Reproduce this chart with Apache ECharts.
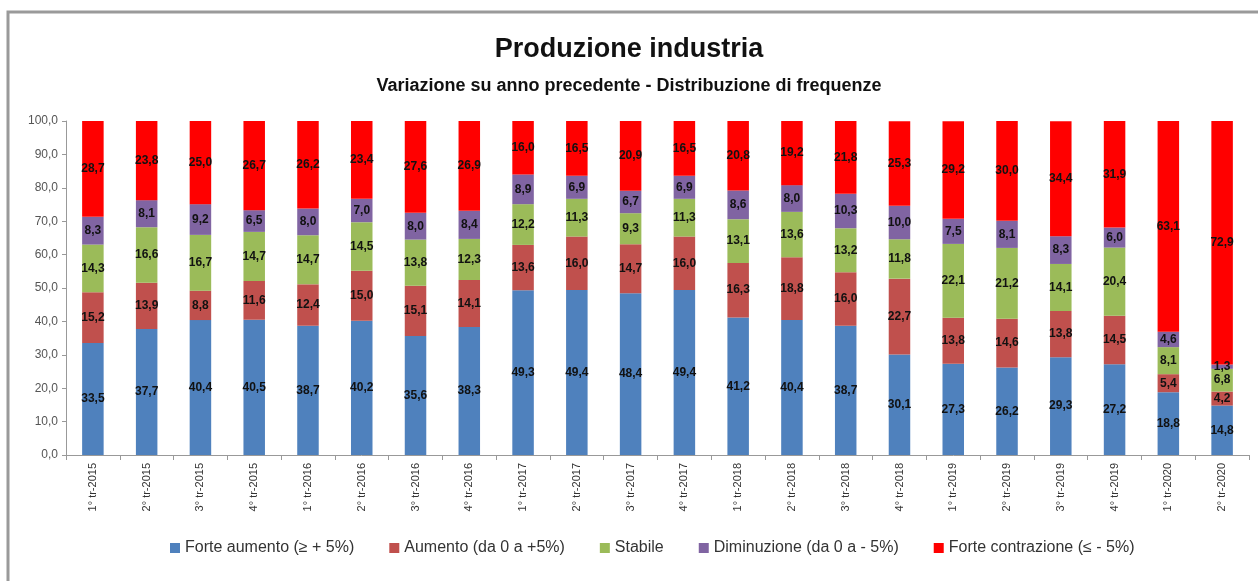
<!DOCTYPE html>
<html>
<head>
<meta charset="utf-8">
<script src="https://cdn.jsdelivr.net/npm/echarts@6/dist/echarts.min.js"></script>
<style>
  html, body { margin: 0; padding: 0; background: #fff; }
  #chart { width: 1258px; height: 581px; }
</style>
</head>
<body>
<div id="chart"></div>
<script>
// trimestri
var categories = [
  "1° tr-2015", "2° tr-2015", "3° tr-2015", "4° tr-2015",
  "1° tr-2016", "2° tr-2016", "3° tr-2016", "4° tr-2016",
  "1° tr-2017", "2° tr-2017", "3° tr-2017", "4° tr-2017",
  "1° tr-2018", "2° tr-2018", "3° tr-2018", "4° tr-2018",
  "1° tr-2019", "2° tr-2019", "3° tr-2019", "4° tr-2019",
  "1° tr-2020", "2° tr-2020"
];
var forteAumento = [33.5, 37.7, 40.4, 40.5, 38.7, 40.2, 35.6, 38.3, 49.3, 49.4, 48.4, 49.4, 41.2, 40.4, 38.7, 30.1, 27.3, 26.2, 29.3, 27.2, 18.8, 14.8];
var aumento = [15.2, 13.9, 8.8, 11.6, 12.4, 15.0, 15.1, 14.1, 13.6, 16.0, 14.7, 16.0, 16.3, 18.8, 16.0, 22.7, 13.8, 14.6, 13.8, 14.5, 5.4, 4.2];
var stabile = [14.3, 16.6, 16.7, 14.7, 14.7, 14.5, 13.8, 12.3, 12.2, 11.3, 9.3, 11.3, 13.1, 13.6, 13.2, 11.8, 22.1, 21.2, 14.1, 20.4, 8.1, 6.8];
var diminuzione = [8.3, 8.1, 9.2, 6.5, 8.0, 7.0, 8.0, 8.4, 8.9, 6.9, 6.7, 6.9, 8.6, 8.0, 10.3, 10.0, 7.5, 8.1, 8.3, 6.0, 4.6, 1.3];
var forteContrazione = [28.7, 23.8, 25.0, 26.7, 26.2, 23.4, 27.6, 26.9, 16.0, 16.5, 20.9, 16.5, 20.8, 19.2, 21.8, 25.3, 29.2, 30.0, 34.4, 31.9, 63.1, 72.9];
var seriesNames = [
  "Forte aumento (≥ + 5%)", "Aumento (da 0 a +5%)", "Stabile",
  "Diminuzione (da 0 a - 5%)", "Forte contrazione (≤ - 5%)"
];

var font = "'Liberation Sans Narrow', 'Liberation Sans', sans-serif";
var colors = ["#4F81BD", "#C0504D", "#9BBB59", "#8064A2", "#FF0000"];

function virgola(v) {
  return v.toFixed(1).replace(".", ",");
}

var chart = echarts.init(document.getElementById("chart"));

function makeSeries(name, data, color) {
  return {
    name: name,
    type: "bar",
    stack: "tot",
    data: data,
    barWidth: "40%",
    itemStyle: { color: color },
    label: {
      show: true,
      position: "inside",
      color: "#111",
      fontFamily: font,
      fontWeight: "bold",
      fontSize: 12,
      formatter: function (p) { return virgola(p.value); }
    }
  };
}

var allData = [forteAumento, aumento, stabile, diminuzione, forteContrazione];

chart.setOption({
  animation: false,
  color: colors,
  title: {
    text: "Produzione industria",
    subtext: "Variazione su anno precedente - Distribuzione di frequenze",
    left: "center",
    top: 31,
    itemGap: 14,
    textStyle: { fontFamily: font, fontWeight: "bold", fontSize: 27, color: "#111" },
    subtextStyle: { fontFamily: font, fontWeight: "bold", fontSize: 18, color: "#111" }
  },
  legend: {
    bottom: 20,
    left: 165,
    itemWidth: 10,
    itemHeight: 10,
    itemGap: 35,
    icon: "rect",
    textStyle: { fontFamily: font, fontSize: 16, color: "#333" },
    data: seriesNames
  },
  grid: { left: 66, right: 9, top: 121, bottom: 126 },
  xAxis: {
    type: "category",
    data: categories,
    axisLine: { lineStyle: { color: "#999" } },
    axisTick: { show: true, lineStyle: { color: "#999" } },
    axisLabel: {
      rotate: 90,
      interval: 0,
      fontFamily: font,
      fontSize: 11,
      color: "#333",
      margin: 8
    }
  },
  yAxis: {
    type: "value",
    min: 0,
    max: 100,
    interval: 10,
    splitLine: { show: false },
    axisLine: { show: true, lineStyle: { color: "#999" } },
    axisTick: { show: true, length: 4, lineStyle: { color: "#999" } },
    axisLabel: {
      fontFamily: font,
      fontSize: 12,
      color: "#555",
      margin: 8,
      formatter: function (v) { return virgola(v); }
    }
  },
  graphic: [{
    type: "rect",
    shape: { x: 8, y: 12, width: 1270, height: 600 },
    style: { fill: "none", stroke: "#9a9a9a", lineWidth: 3 },
    silent: true
  }],
  series: seriesNames.map(function (n, i) { return makeSeries(n, allData[i], colors[i]); })
});
</script>
</body>
</html>
